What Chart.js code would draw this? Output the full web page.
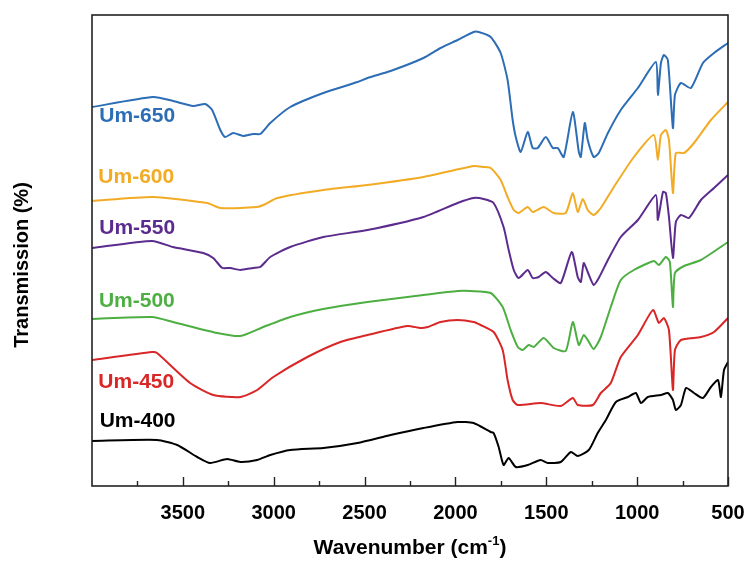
<!DOCTYPE html>
<html>
<head>
<meta charset="utf-8">
<script src="https://cdn.jsdelivr.net/npm/chart.js@4.4.0/dist/chart.umd.min.js"></script>
<style>
html,body{margin:0;padding:0;background:#fff;}
#wrap{width:750px;height:563px;position:relative;}
</style>
</head>
<body>
<div id="wrap"><canvas id="c" width="750" height="563"></canvas></div>
<script>
// ---- data (wavenumber in cm-1, transmission in arbitrary offset units) ----
const seriesNames = ['Um-650','Um-600','Um-550','Um-500','Um-450','Um-400'];

const wn650 = [4000,3664,3554,3443,3377,3339,3294,3267,3223,3168,3113,3074,3019,2909,2727,2539,2484,2357,2176,2082,1988,1900,1872,1806,1751,1713,1685,1668,1641,1602,1575,1547,1503,1464,1437,1404,1354,1321,1310,1288,1272,1239,1211,1161,1090,996,897,886,869,853,831,803,792,759,704,638,577,500];
const t650  = [379,389,385,380,382,376,356,349,353,350,352,352,363,379,393,404,408,415,428,438,446,454,454,449,433,406,366,349,334,354,338,338,349,338,338,329,374,334,329,363,346,329,333,353,376,398,424,391,423,431,426,358,391,403,398,423,433,443];

const wn600 = [4000,3664,3366,3294,3091,3057,2980,2727,2484,2176,1900,1845,1806,1751,1713,1679,1652,1602,1575,1514,1459,1393,1354,1327,1299,1272,1239,1200,1128,1018,908,886,869,842,825,803,787,742,687,594,500];
const t600  = [285,289,283,278,279,281,288,296,301,309,320,319,318,306,289,276,273,279,274,279,273,273,293,274,287,276,271,278,299,329,351,326,351,356,346,293,333,333,343,366,384];

const wn550 = [4000,3669,3554,3388,3333,3283,3239,3184,3113,3074,3019,2909,2727,2484,2176,1988,1900,1845,1790,1735,1707,1679,1652,1602,1575,1542,1503,1464,1420,1360,1327,1310,1294,1272,1239,1211,1161,1090,996,897,886,858,842,825,803,787,759,715,649,577,500];
const t550  = [238,245,239,233,228,218,218,216,218,219,229,239,249,256,269,283,288,287,283,259,236,216,208,216,208,209,214,208,203,234,209,204,223,214,201,208,226,249,266,291,266,294,293,269,228,264,271,268,286,298,311];

const wn500 = [4000,3669,3554,3311,3184,3057,2909,2727,2484,2176,1988,1916,1806,1740,1696,1657,1630,1597,1569,1514,1459,1393,1354,1321,1294,1272,1239,1200,1145,1090,1018,908,880,842,820,803,792,742,649,500];
const t500  = [167,169,164,153,150,159,169,177,184,191,195,195,193,179,156,139,136,141,139,148,138,135,164,141,151,146,137,149,179,206,216,225,221,229,224,179,213,220,226,244];

const wn450 = [4000,3669,3642,3460,3333,3184,3091,3002,2815,2633,2484,2264,2192,2153,2082,1988,1900,1861,1790,1740,1713,1685,1657,1531,1420,1354,1327,1244,1200,1145,1090,996,913,880,853,825,803,792,759,649,577,500];
const t450  = [126,134,133,103,91,89,96,109,129,144,151,160,158,159,164,166,164,161,154,136,106,86,81,83,80,88,81,81,93,103,129,151,176,163,168,156,96,136,146,149,154,168];

const wn400 = [4000,3642,3531,3421,3350,3256,3184,3091,3019,2909,2727,2539,2357,2176,1988,1900,1806,1790,1762,1735,1707,1668,1602,1531,1492,1420,1365,1327,1266,1217,1172,1117,1051,1007,979,941,869,831,803,787,759,731,687,638,594,555,539,522,500];
const t400  = [45,46,41,29,23,27,24,26,31,36,38,43,51,58,64,63,54,53,39,21,28,19,21,26,23,24,34,30,36,53,66,84,89,93,83,89,91,93,86,76,81,98,93,88,99,106,89,116,124];

const xTicks = [3500,3000,2500,2000,1500,1000,500];
const xMinorTicks = [3750,3250,2750,2250,1750,1250,750];

const colors = ['#2c6db5','#f2ab25','#5b2b8e','#4dae42','#d92626','#000000'];
// label anchors in data units (wavenumber, transmission)
const labelWn = [3960,3965,3960,3962,3965,3958];
const labelT  = [370,309,258,185,104,65];

function pts(w,t){ return w.map((x,i)=>({x:x,y:t[i]})); }
const allW = [wn650,wn600,wn550,wn500,wn450,wn400];
const allT = [t650,t600,t550,t500,t450,t400];

const FONT = '"Liberation Sans", Arial, sans-serif';

const decor = {
  id:'decor',
  afterDraw(chart){
    const ctx = chart.ctx, a = chart.chartArea;
    const xs = chart.scales.x, ys = chart.scales.y;
    ctx.save();
    // frame
    ctx.strokeStyle = '#222'; ctx.lineWidth = 1.6;
    ctx.strokeRect(a.left, a.top, a.right-a.left, a.bottom-a.top);
    // inward ticks
    ctx.lineWidth = 1.4;
    xTicks.forEach(v=>{ const px = Math.round(xs.getPixelForValue(v))+0.5;
      ctx.beginPath(); ctx.moveTo(px,a.bottom); ctx.lineTo(px,a.bottom-9); ctx.stroke(); });
    xMinorTicks.forEach(v=>{ const px = Math.round(xs.getPixelForValue(v))+0.5;
      ctx.beginPath(); ctx.moveTo(px,a.bottom); ctx.lineTo(px,a.bottom-5); ctx.stroke(); });
    // series labels
    ctx.font = 'bold 21px '+FONT; ctx.textAlign='left'; ctx.textBaseline='middle';
    seriesNames.forEach((n,i)=>{
      ctx.fillStyle = colors[i];
      ctx.fillText(n, xs.getPixelForValue(labelWn[i]), ys.getPixelForValue(labelT[i]));
    });
    // y title
    ctx.fillStyle='#000';
    ctx.save();
    ctx.translate(22, 265); ctx.rotate(-Math.PI/2);
    ctx.font = 'bold 20px '+FONT; ctx.textAlign='center'; ctx.textBaseline='middle';
    ctx.fillText('Transmission (%)', 0, 0);
    ctx.restore();
    // x title with superscript
    const main1 = 'Wavenumber (cm', sup = '-1', main2 = ')';
    ctx.font = 'bold 21px '+FONT;
    const w1 = ctx.measureText(main1).width, w3 = ctx.measureText(main2).width;
    ctx.font = 'bold 13px '+FONT;
    const w2 = ctx.measureText(sup).width;
    const cx = (a.left + a.right)/2;
    let x0 = cx - (w1+w2+w3)/2;
    const yT = 548;
    ctx.textAlign='left'; ctx.textBaseline='middle';
    ctx.font = 'bold 21px '+FONT; ctx.fillText(main1, x0, yT);
    ctx.font = 'bold 13px '+FONT; ctx.fillText(sup, x0+w1, yT-7);
    ctx.font = 'bold 21px '+FONT; ctx.fillText(main2, x0+w1+w2, yT);
    ctx.restore();
  }
};

new Chart(document.getElementById('c'), {
  type:'line',
  data:{
    datasets: seriesNames.map((n,i)=>({
      label:n, data:pts(allW[i],allT[i]), borderColor:colors[i], backgroundColor:colors[i],
      borderWidth:2, pointRadius:0, fill:false, tension:0.2
    }))
  },
  options:{
    responsive:false, animation:false, devicePixelRatio:1,
    layout:{padding:{top:15,right:22,left:0,bottom:0}},
    plugins:{legend:{display:false}, tooltip:{enabled:false}},
    scales:{
      x:{ type:'linear', min:500, max:4000, reverse:true,
          grid:{display:false, drawTicks:false}, border:{display:false},
          afterBuildTicks:(s)=>{ s.ticks = xTicks.map(v=>({value:v})); },
          afterFit:(s)=>{ s.height = 77; s.paddingLeft = 0; s.paddingRight = 0; },
          ticks:{ autoSkip:false, maxRotation:0, padding:15, color:'#000',
                  callback:(v)=>String(v),
                  font:{family:FONT, size:20, weight:'bold'} } },
      y:{ min:0, max:471, grid:{display:false, drawTicks:false}, border:{display:false},
          ticks:{display:false}, afterFit:(s)=>{ s.width = 92; s.paddingTop = 0; s.paddingBottom = 0; } }
    }
  },
  plugins:[decor]
});
</script>
</body>
</html>
